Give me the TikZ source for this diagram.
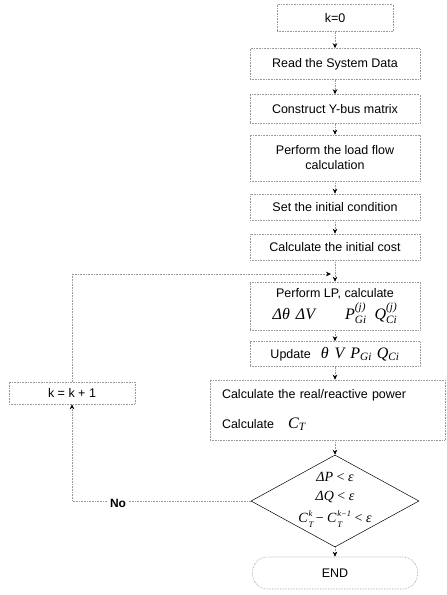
\documentclass[tikz,border=0pt]{standalone}
\usepackage{amsmath}
\usepackage{fontspec}
\setmainfont{Liberation Sans}
\newfontfamily\tmsf{Liberation Serif}
\usetikzlibrary{shapes.geometric,arrows.meta}
\newcommand\ti[1]{{\tmsf\itshape #1}}
\newcommand\supsub[2]{$^{\text{\ti{#1}}}_{\text{\ti{#2}}}$}
\newcommand\lsub[1]{$_{\text{\ti{#1}}}$}
\newcommand\cst[2]{{\fontsize{8.5}{9}\selectfont\tmsf\itshape\begin{tabular}[c]{@{}l@{}}#1\\[2.5pt]#2\end{tabular}}}
\newcommand\mfs{\fontsize{16}{18}\selectfont}
\begin{document}
\begin{tikzpicture}[x=1pt,y=-1pt,
  faint/.style={draw=black!40, densely dotted, line width=0.6pt},
  box/.style={faint, minimum width=170pt, align=center, inner sep=0pt,
    font=\fontsize{12.5}{15}\selectfont},
  arr/.style={faint, -{Stealth[black,length=5pt,width=4.5pt]}},
  txt/.style={font=\fontsize{12.5}{15}\selectfont, inner sep=1pt}]
\fill[white] (0,0) rectangle (447,595);
\useasboundingbox (0,0) rectangle (447,595);

\node[box, minimum width=116pt, minimum height=27pt] (k0) at (335,18) {k=0};
\node[box, minimum height=31pt] (read) at (335,64) {Read the System Data};
\node[box, minimum height=29pt] (ybus) at (335,109) {Construct Y-bus matrix};
\node[box, minimum height=46pt] (lf) at (335,158) {Perform the load flow\\ calculation};
\node[box, minimum height=26pt] (init) at (335,207) {Set the initial condition};
\node[box, minimum height=26pt] (cost) at (335,247) {Calculate the initial cost};
\node[box, minimum height=48pt] (lp) at (335,306)
  {Perform LP, calculate\\[3pt]
   {\mfs\ti{Δθ}\hspace{6pt}\ti{ΔV}\hspace{30pt}\ti{P}\supsub{(j)}{Gi}\hspace{8pt}\ti{Q}\supsub{(j)}{Ci}}};
\node[box, minimum height=25pt] (upd) at (335,354)
  {Update\hspace{10pt}{\mfs\ti{θ}\hspace{6pt}\ti{V}\hspace{6pt}\ti{P}\lsub{Gi}\hspace{5pt}\ti{Q}\lsub{Ci}}};
\node[box, minimum width=235pt, minimum height=60pt, text width=211pt,
      inner xsep=12pt, align=left] (calc) at (327.5,410)
  {Calculate the real/reactive power\\[15pt]
   Calculate\hspace{14pt}{\mfs\ti{C}\lsub{T}}};
\node[diamond, draw=black, line width=0.5pt, minimum width=168pt,
      minimum height=92pt, inner sep=0pt] (dec) at (335,501) {};
\node[align=center, font=\tmsf\fontsize{14}{19}\selectfont, inner sep=0pt] (dectxt) at (dec.center)
  {\ti{ΔP} < \ti{ε}\\ \ti{ΔQ} < \ti{ε}\\[3pt]
   \ti{C\/}\kern0.8pt\cst{k}{T}\,− \ti{C\/}\kern0.8pt\cst{k−1}{T} < \ti{ε}};
\node[faint, rounded corners=15pt, minimum width=165pt, minimum height=32pt,
      font=\fontsize{12.5}{15}\selectfont] (end) at (335,573) {END};
\node[box, minimum width=126pt, minimum height=22pt] (kk) at (72,393) {k = k + 1};

\coordinate (loopbot) at (72,501);
\coordinate (looptop) at (72,274);
\coordinate (merge) at (331,274);

\draw[arr] (k0) -- (read);
\draw[arr] (read) -- (ybus);
\draw[arr] (ybus) -- (lf);
\draw[arr] (lf) -- (init);
\draw[arr] (init) -- (cost);
\draw[arr] (cost) -- (lp);
\draw[arr] (lp) -- (upd);
\draw[arr] (upd) -- (calc.north -| upd.south);
\draw[arr] (calc.south -| dec.north) -- (dec.north);
\draw[arr] (dec.south) -- (end.north);
\draw[arr] (dec.west) -- (loopbot) -- (kk.south);
\draw[arr] (kk.north) -- (looptop) -- (merge);
\node[txt, fill=white, font=\bfseries\fontsize{12}{14}\selectfont, inner xsep=3pt] (no) at (118,503) {No};
\end{tikzpicture}
\end{document}
